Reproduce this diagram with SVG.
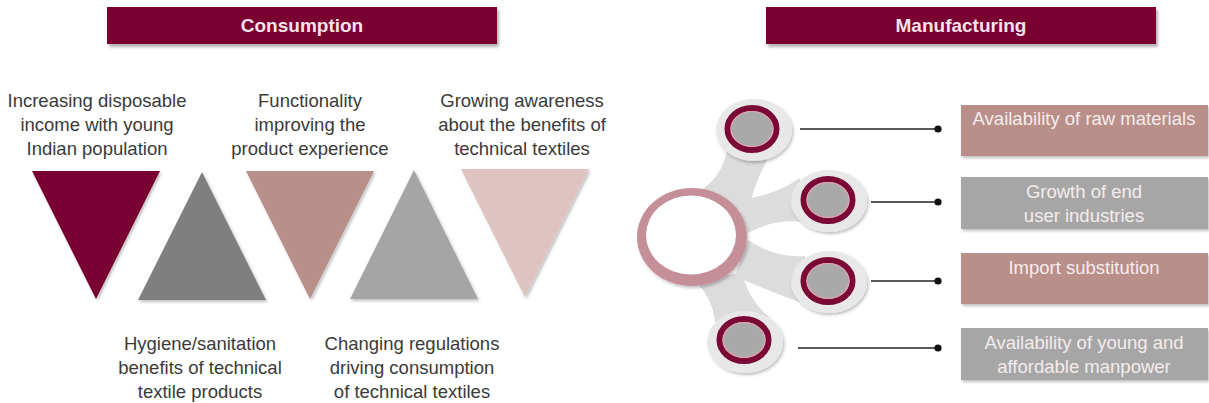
<svg xmlns="http://www.w3.org/2000/svg" width="1209" height="403" viewBox="0 0 1209 403">
  <defs>
    <filter id="sh" x="-10%" y="-10%" width="130%" height="140%">
      <feDropShadow dx="2" dy="3" stdDeviation="1.8" flood-color="#000" flood-opacity="0.3"/>
    </filter>
    <filter id="shs" x="-20%" y="-20%" width="150%" height="150%">
      <feDropShadow dx="1.5" dy="2" stdDeviation="1.5" flood-color="#000" flood-opacity="0.25"/>
    </filter>
    <marker id="dot" viewBox="0 0 8 8" refX="4" refY="4" markerWidth="8" markerHeight="8" markerUnits="userSpaceOnUse">
      <circle cx="4" cy="4" r="3.6" fill="#111"/>
    </marker>
  </defs>
  <style>
    .hdr{fill:#7a0030;filter:url(#sh)}
    .hdrt{font-family:"Liberation Sans",Arial,sans-serif;font-weight:bold;font-size:19px;fill:#f6e2ea;text-anchor:middle}
    .lbl{font-family:"Liberation Sans",Arial,sans-serif;font-size:18.5px;fill:#3a3a3a;text-anchor:middle}
    .tri{filter:url(#shs)}
    .box{filter:url(#shs)}
    .boxt{font-family:"Liberation Sans",Arial,sans-serif;font-size:18.5px;fill:#f5ecec;text-anchor:middle}
    .rose{fill:#b98f8a}
    .grey{fill:#a6a6a6}
    .arm{fill:#dcdcdc}
    .sat{fill:#e8e8e8;filter:url(#shs)}
    .ring{fill:#a9a9a9;stroke:#7a0a35;stroke-width:6}
    .ringin{fill:none;stroke:#e9a3b3;stroke-width:1.2}
    .conn{stroke:#222;stroke-width:1.5;fill:none;marker-end:url(#dot)}
  </style>

  <rect width="1209" height="403" fill="#ffffff"/>

  <!-- Headers -->
  <g id="consumption-header">
    <rect class="hdr" x="107" y="7" width="390" height="37"/>
    <text class="hdrt" x="302" y="32">Consumption</text>
  </g>
  <g id="manufacturing-header">
    <rect class="hdr" x="766" y="7" width="390" height="37"/>
    <text class="hdrt" x="961" y="32">Manufacturing</text>
  </g>

  <!-- Consumption triangles -->
  <g id="c1">
    <polygon class="tri" points="32,171 160,171 96,299" fill="#790030"/>
    <text class="lbl" x="97" y="106.5">Increasing disposable</text>
    <text class="lbl" x="97" y="130.5">income with young</text>
    <text class="lbl" x="97" y="154.5">Indian population</text>
  </g>
  <g id="c2">
    <polygon class="tri" points="138,300 266,300 202,172" fill="#7f7f7f"/>
    <text class="lbl" x="200" y="349.5">Hygiene/sanitation</text>
    <text class="lbl" x="200" y="373.5">benefits of technical</text>
    <text class="lbl" x="200" y="397.5">textile products</text>
  </g>
  <g id="c3">
    <polygon class="tri" points="246,171 374,171 310,299" fill="#b98f8a"/>
    <text class="lbl" x="310" y="106.5">Functionality</text>
    <text class="lbl" x="310" y="130.5">improving the</text>
    <text class="lbl" x="310" y="154.5">product experience</text>
  </g>
  <g id="c4">
    <polygon class="tri" points="350,299 478,299 414,170" fill="#a5a5a5"/>
    <text class="lbl" x="412" y="349.5">Changing regulations</text>
    <text class="lbl" x="412" y="373.5">driving consumption</text>
    <text class="lbl" x="412" y="397.5">of technical textiles</text>
  </g>
  <g id="c5">
    <polygon class="tri" points="461,169 589,169 525,297" fill="#dfc3c1"/>
    <text class="lbl" x="522" y="106.5">Growing awareness</text>
    <text class="lbl" x="522" y="130.5">about the benefits of</text>
    <text class="lbl" x="522" y="154.5">technical textiles</text>
  </g>

  <!-- Manufacturing hub -->
  <g id="hub-arms">
    <path class="arm" d="M698 192 Q722 178 727 150 L772 152 Q754 180 748 214 Z"/>
    <path class="arm" d="M735 200 Q770 198 800 178 L806 222 Q775 218 748 233 Z"/>
    <path class="arm" d="M748 240 Q775 258 805 256 L808 305 Q770 292 735 276 Z"/>
    <path class="arm" d="M695 282 Q712 296 715 322 L770 318 Q748 300 742 272 Z"/>
  </g>
  <g id="hub">
    <ellipse cx="692" cy="237" rx="55" ry="49" fill="#c48f98" filter="url(#shs)"/>
    <ellipse cx="691" cy="235" rx="45" ry="39.5" fill="#ffffff"/>
  </g>
  <g id="s1">
    <ellipse class="sat" cx="754" cy="130" rx="38" ry="31"/>
    <ellipse class="ring" cx="752" cy="129" rx="24.5" ry="21"/>
    <ellipse class="ringin" cx="752" cy="129" rx="21" ry="17.5"/>
  </g>
  <g id="s2">
    <ellipse class="sat" cx="829" cy="201" rx="38" ry="31"/>
    <ellipse class="ring" cx="828" cy="200" rx="24.5" ry="21"/>
    <ellipse class="ringin" cx="828" cy="200" rx="21" ry="17.5"/>
  </g>
  <g id="s3">
    <ellipse class="sat" cx="829" cy="282" rx="38" ry="31"/>
    <ellipse class="ring" cx="828" cy="281" rx="24.5" ry="21"/>
    <ellipse class="ringin" cx="828" cy="281" rx="21" ry="17.5"/>
  </g>
  <g id="s4">
    <ellipse class="sat" cx="745" cy="342" rx="38" ry="31"/>
    <ellipse class="ring" cx="744" cy="340" rx="24.5" ry="21"/>
    <ellipse class="ringin" cx="744" cy="340" rx="21" ry="17.5"/>
  </g>

  <!-- Connectors -->
  <g id="connectors">
    <line class="conn" x1="800" y1="129" x2="938" y2="129"/>
    <line class="conn" x1="871" y1="202" x2="938" y2="202"/>
    <line class="conn" x1="871" y1="281" x2="938" y2="281"/>
    <line class="conn" x1="798" y1="348" x2="938" y2="348"/>
  </g>

  <!-- Manufacturing boxes -->
  <g id="m1">
    <rect class="box rose" x="961" y="105" width="247" height="51"/>
    <text class="boxt" x="1084" y="124.5">Availability of raw materials</text>
  </g>
  <g id="m2">
    <rect class="box grey" x="961" y="177" width="247" height="52"/>
    <text class="boxt" x="1084" y="197.5">Growth of end</text>
    <text class="boxt" x="1084" y="222">user industries</text>
  </g>
  <g id="m3">
    <rect class="box rose" x="961" y="253" width="247" height="51"/>
    <text class="boxt" x="1084" y="273.5">Import substitution</text>
  </g>
  <g id="m4">
    <rect class="box grey" x="961" y="328" width="247" height="52"/>
    <text class="boxt" x="1084" y="348.5">Availability of young and</text>
    <text class="boxt" x="1084" y="372.5">affordable manpower</text>
  </g>
</svg>
